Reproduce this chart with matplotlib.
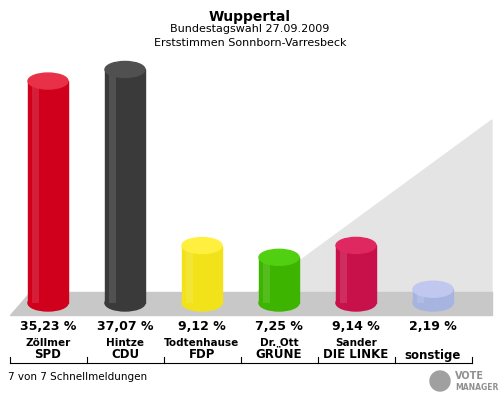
import matplotlib.pyplot as plt
from matplotlib.patches import Rectangle, Ellipse, Polygon

candidates = ["Zöllmer", "Hintze", "Todtenhause", "Dr. Ott", "Sander", ""]
parties = ["SPD", "CDU", "FDP", "GRÜNE", "DIE LINKE", "sonstige"]
values = [35.23, 37.07, 9.12, 7.25, 9.14, 2.19]
colors = ["#d0001c", "#3a3a3a", "#f2e21a", "#3cb400", "#c8104a", "#a8b4e0"]
tops = ["#e83048", "#505050", "#fff040", "#50d010", "#e02860", "#c0c8f0"]

fig = plt.figure(figsize=(5, 4), dpi=100)
ax = fig.add_axes([0, 0, 1, 1])
ax.set_xlim(0, 500)
ax.set_ylim(400, 0)
ax.axis("off")

# floor / back wall
ax.add_patch(Polygon([(20, 312), (492, 312), (492, 120), (230, 312)], closed=True,
                     color="#e4e4e4", zorder=0))
ax.add_patch(Polygon([(10, 315), (492, 315), (492, 292), (30, 292)], closed=True,
                     color="#c8c8c8", zorder=0))

fig.text(0.5, 0.975, "Wuppertal", ha="center", va="top", fontsize=10, fontweight="bold")
fig.text(0.5, 0.94, "Bundestagswahl 27.09.2009", ha="center", va="top", fontsize=8)
fig.text(0.5, 0.905, "Erststimmen Sonnborn-Varresbeck", ha="center", va="top", fontsize=8)

scale = 6.3
base = 303
w = 40
for i, v in enumerate(values):
    cx = 48 + 77 * i
    h = v * scale
    ax.add_patch(Ellipse((cx, base), w, 16, color=colors[i], zorder=2))
    ax.add_patch(Rectangle((cx - w / 2, base - h), w, h, color=colors[i], zorder=2))
    ax.add_patch(Rectangle((cx - w / 2 + 4, base - h), 7, h, color="white", alpha=0.12, zorder=3, lw=0))
    ax.add_patch(Ellipse((cx, base - h), w, 16, color=tops[i], zorder=4))
    ax.text(cx, 327, f"{v:.2f} %".replace(".", ","), ha="center", va="center",
            fontsize=9, fontweight="bold")
    ax.text(cx, 343, candidates[i], ha="center", va="center", fontsize=7.5, fontweight="bold")
    ax.text(cx, 355, parties[i], ha="center", va="center", fontsize=8.5, fontweight="bold")

ax.plot([10, 472], [363, 363], color="black", lw=0.8)
for i in range(7):
    x = 10 + 77 * i
    ax.plot([x, x], [357, 363], color="black", lw=0.8)

ax.text(8, 377, "7 von 7 Schnellmeldungen", ha="left", va="center", fontsize=7.5)
ax.text(455, 376, "VOTE", ha="left", va="center", fontsize=7, fontweight="bold", color="#909090")
ax.text(455, 387, "MANAGER", ha="left", va="center", fontsize=5.5, fontweight="bold", color="#909090")
ax.add_patch(Ellipse((440, 381), 20, 20, color="#a0a0a0"))

fig.savefig("out.png")
